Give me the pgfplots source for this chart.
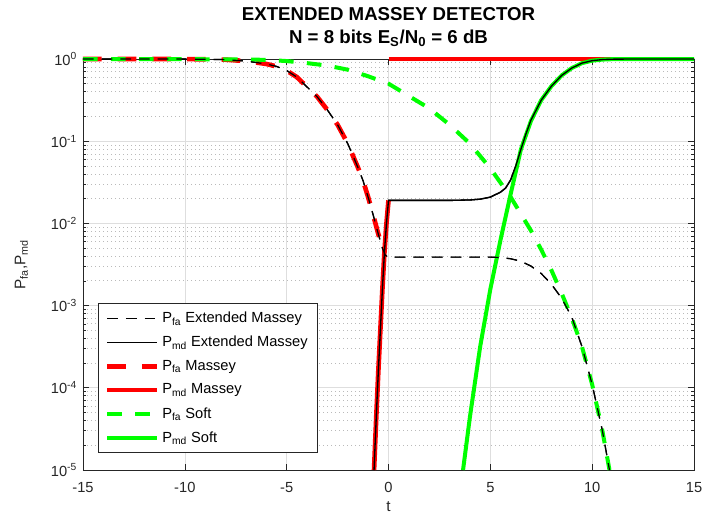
\documentclass[border=0pt]{standalone}
\usepackage{fontspec}
\setmainfont{Liberation Sans}
\usepackage{pgfplots}
\pgfplotsset{compat=1.18}
\definecolor{axgray}{RGB}{38,38,38}
\definecolor{mred}{RGB}{255,0,0}
\definecolor{mgreen}{RGB}{0,255,0}
\pgfplotstableread{
t P
-15 1
-12 1
-10 0.9977
-9 0.9931
-8 0.9817
-7 0.9441
-6 0.8710
-5.5 0.8128
-5 0.7244
-4.5 0.6026
-4 0.4571
-3.5 0.3467
-3 0.2399
-2.5 0.1585
-2 0.09333
-1.5 0.04786
-1.25 0.03311
-1 0.02089
-0.75 0.01259
-0.5 0.007413
-0.3 0.005012
-0.15 0.004074
0 0.003890
5 0.003890
5.5 0.003846
6 0.003715
6.5 0.003467
7 0.003020
7.5 0.002455
8 0.001820
8.5 0.001230
9 7.244e-4
9.5 3.162e-4
10 1.096e-4
10.5 3.020e-5
10.85 1e-5
}\pfaext
\pgfplotstableread{
t P
-0.71 1e-5
-0.6 4.467e-5
-0.5 1.585e-4
-0.4 5.012e-4
-0.3 1.585e-3
-0.2 4.467e-3
-0.1 0.01
0 0.01905
1 0.01905
3 0.01905
4 0.01928
4.5 0.01972
5 0.02089
5.5 0.02399
5.75 0.02692
6 0.03388
6.25 0.05012
6.5 0.07943
6.75 0.1230
7 0.1820
7.5 0.3162
8 0.4677
8.5 0.6310
9 0.7762
9.5 0.8913
10 0.9550
10.5 0.9840
11 0.9954
12 1
15 1
}\pmdext
\pgfplotstableread{
t P
-15 1
-12 1
-10 0.9977
-9 0.9931
-8 0.9817
-7 0.9441
-6 0.8710
-5.5 0.8128
-5 0.7244
-4.5 0.6026
-4 0.4571
-3.5 0.3467
-3 0.2399
-2.5 0.1585
-2 0.09333
-1.5 0.04786
-1.25 0.03311
-1 0.02089
-0.75 0.01259
-0.5 0.007413
-0.27 0.004898
}\pfamassey
\pgfplotstableread{
t P
-0.71 1e-5
-0.6 4.467e-5
-0.5 1.585e-4
-0.4 5.012e-4
-0.3 1.585e-3
-0.2 4.467e-3
-0.1 0.01
0 0.01905
}\pmdmassey
\pgfplotstableread{
t P
0 1
15 1
}\pmdmasseytop
\pgfplotstableread{
t P
-15 1
-12 0.9977
-10 0.9954
-8 0.9908
-6 0.9772
-5 0.9441
-4 0.8913
-3 0.8318
-2 0.7413
-1 0.6166
0 0.5012
1 0.3548
2 0.2512
3 0.1585
4 0.09333
5 0.04677
6 0.02089
7 0.008128
7.5 0.004786
8 0.002692
8.5 0.001413
9 7.079e-4
9.5 3.162e-4
10 1.096e-4
10.5 3.020e-5
10.85 1e-5
}\pfasoft
\pgfplotstableread{
t P
3.66 1e-5
4 4.467e-5
4.5 3.162e-4
5 1.585e-3
5.5 6.310e-3
6 0.02291
6.5 0.07943
7 0.1778
7.5 0.3162
8 0.4677
8.5 0.6310
9 0.7762
9.5 0.8913
10 0.9550
10.5 0.9840
11 0.9954
12 1
15 1
}\pmdsoft
\begin{document}
\begin{tikzpicture}
\begin{axis}[
  width=458.25pt, height=308.25pt, scale only axis,
  xmin=-15, xmax=15, ymin=1e-5, ymax=1,
  ymode=log, log basis y=10,
  clip=false,
  xtick={-15,-10,-5,0,5,10,15},
  xticklabels={-15,-10,-5,0,5,10,15},
  ytick={1e-5,1e-4,1e-3,1e-2,1e-1,1},
  yticklabels={10\textsuperscript{-5},10\textsuperscript{-4},10\textsuperscript{-3},10\textsuperscript{-2},10\textsuperscript{-1},10\textsuperscript{0}},
  minor ytick={2e-5,3e-5,4e-5,5e-5,6e-5,7e-5,8e-5,9e-5,2e-4,3e-4,4e-4,5e-4,6e-4,7e-4,8e-4,9e-4,2e-3,3e-3,4e-3,5e-3,6e-3,7e-3,8e-3,9e-3,2e-2,3e-2,4e-2,5e-2,6e-2,7e-2,8e-2,9e-2,0.2,0.3,0.4,0.5,0.6,0.7,0.8,0.9},
  tick pos=both,
  tick align=inside,
  major tick length=4.5pt,
  minor tick length=2.5pt,
  tick style={axgray, line width=0.5pt},
  axis line style={axgray, line width=0.5pt},
  xmajorgrids, ymajorgrids, yminorgrids,
  major grid style={line width=0.5pt, color=black!13},
  minor grid style={line width=0.6pt, color=black!27, dash pattern=on 0.6pt off 2.4pt},
  ticklabel style={font=\fontsize{11}{13}\selectfont, text=axgray},
  xticklabel style={yshift=-6pt},
  yticklabel style={xshift=-1pt},
  xlabel={t},
  ylabel={P\textsubscript{fa},P\textsubscript{md}},
  every axis x label/.style={at={(axis description cs:0.5,0)}, anchor=center, yshift=-27.75pt, font=\fontsize{11.5}{13}\selectfont, text=axgray},
  every axis y label/.style={at={(axis description cs:-0.1007,0.5)}, anchor=center, rotate=90, font=\fontsize{11.5}{13}\selectfont, text=axgray},
  title={EXTENDED MASSEY DETECTOR\\N = 8 bits E\textsubscript{S}/N\textsubscript{0} = 6 dB},
  title style={font=\bfseries\fontsize{14}{17.25}\selectfont, align=center, at={(axis description cs:0.5,1)}, anchor=south, yshift=-0.5pt},
  legend style={at={(0.0245,0.041)}, anchor=south west, draw=axgray, line width=0.5pt, fill=white,
    font=\fontsize{11}{13}\selectfont, row sep=4.6pt, inner xsep=5pt, inner ysep=4.5pt, cells={anchor=west}},
  legend image code/.code={\draw[#1] (0pt,0pt) -- (37.5pt,0pt);},
]
\addplot[black, line width=0.9pt, dash pattern=on 8pt off 6pt] table[x=t,y=P] {\pfaext};
\addlegendentry{P\textsubscript{fa} Extended Massey}
\addplot[black, line width=1pt] table[x=t,y=P] {\pmdext};
\addlegendentry{P\textsubscript{md} Extended Massey}
\addplot[mred, line width=3.5pt, dash pattern=on 14pt off 12pt] table[x=t,y=P] {\pfamassey};
\addlegendentry{P\textsubscript{fa} Massey}
\addplot[mred, line width=3.5pt] table[x=t,y=P] {\pmdmassey};
\addlegendentry{P\textsubscript{md} Massey}
\addplot[mred, line width=3.5pt, forget plot] table[x=t,y=P] {\pmdmasseytop};
\addplot[mgreen, line width=3pt, dash pattern=on 11pt off 10pt] table[x=t,y=P] {\pfasoft};
\addlegendentry{P\textsubscript{fa} Soft}
\addplot[mgreen, line width=3pt] table[x=t,y=P] {\pmdsoft};
\addlegendentry{P\textsubscript{md} Soft}
\addplot[black, line width=0.9pt, dash pattern=on 8pt off 6pt, forget plot] table[x=t,y=P] {\pfaext};
\addplot[black, line width=1pt, forget plot] table[x=t,y=P] {\pmdext};
\end{axis}
\pgfresetboundingbox
\path (current axis.south west) ++(-62.25pt,-36pt) rectangle ++(526.5pt,388.5pt);
\end{tikzpicture}
\end{document}
